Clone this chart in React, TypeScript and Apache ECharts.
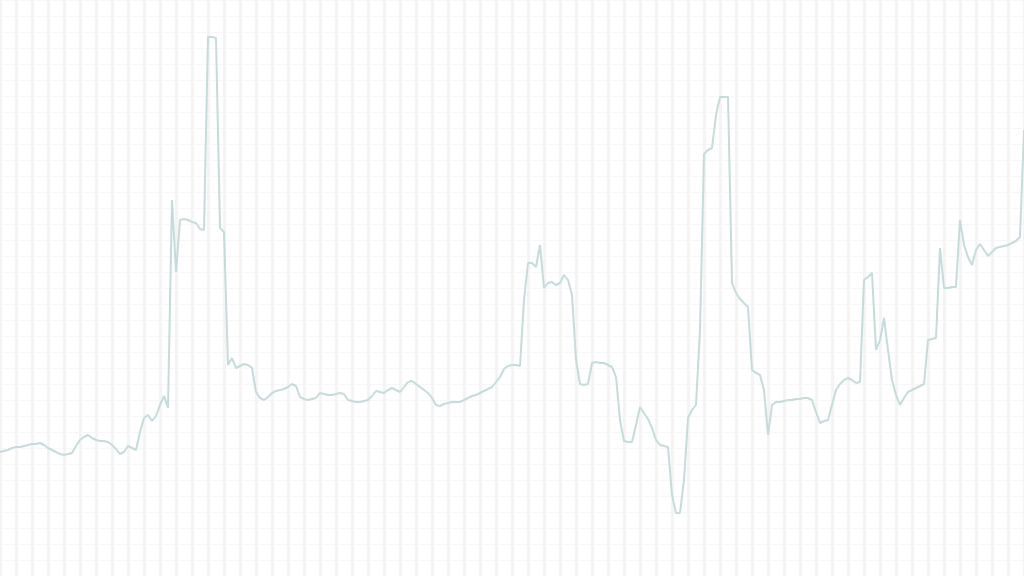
import React, { useEffect, useRef } from "react";
import * as echarts from "echarts";

// Series values (arbitrary units, higher = up), one every 1/256 of the width
const values: number[] = [
  124, 125, 126, 128, 129, 129, 130, 131, 132, 132, 133, 131, 128, 126, 124, 122,
  121, 122, 123, 130, 136, 139, 141, 138, 136, 135, 135, 134, 131, 127, 122, 124,
  130, 128, 126, 144, 158, 161, 155, 160, 171, 180, 168, 376, 304, 356, 357, 356,
  354, 353, 347, 346, 539, 539, 538, 348, 344, 211, 218, 208, 210, 212, 211, 208,
  184, 178, 176, 179, 183, 185, 186, 187, 189, 192, 190, 179, 177, 176, 177, 178,
  183, 182, 181, 181, 182, 183, 182, 176, 175, 174, 174, 175, 176, 180, 185, 184,
  183, 186, 188, 186, 184, 189, 194, 195, 192, 189, 186, 183, 178, 171, 170, 172,
  173, 174, 174, 174, 176, 178, 180, 181, 183, 185, 187, 189, 194, 199, 207, 210,
  211, 211, 210, 276, 313, 313, 309, 331, 288, 293, 294, 291, 293, 301, 296, 281,
  216, 192, 191, 192, 213, 214, 213, 213, 211, 209, 199, 156, 135, 134, 134, 151,
  169, 163, 157, 148, 136, 131, 130, 129, 81, 63, 63, 96, 158, 166, 171, 246,
  422, 426, 428, 461, 479, 479, 479, 293, 283, 277, 273, 269, 206, 203, 201, 186,
  141, 171, 174, 174, 175, 176, 176, 177, 177, 178, 178, 176, 164, 153, 155, 156,
  171, 186, 192, 196, 198, 196, 193, 194, 296, 299, 303, 226, 236, 258, 226, 196,
  181, 171, 178, 184, 186, 188, 190, 192, 236, 237, 238, 328, 288, 288, 289, 289,
  356, 331, 319, 311, 326, 332, 326, 320, 324, 328, 329, 330, 331, 333, 335, 339,
  446,
];

// Category labels: sample index
const categories: string[] = values.map((_, i) => String(i));

// Axis ranges
const yRange = { min: 0, max: 576, step: 16 };
const gridColumns = { min: 0, max: 64, step: 1 };

export default function App() {
  const ref = useRef<HTMLDivElement>(null);

  useEffect(() => {
    if (!ref.current) return;
    const chart = echarts.init(ref.current, undefined, { renderer: "svg" });
    chart.setOption({
      animation: false,
      backgroundColor: "#ffffff",
      grid: { left: 0, right: 0, top: 0, bottom: 0, containLabel: false },
      xAxis: [
        {
          type: "category",
          data: categories,
          boundaryGap: false,
          show: false,
        },
        {
          type: "value",
          min: gridColumns.min,
          max: gridColumns.max,
          interval: gridColumns.step,
          axisLine: { show: false },
          axisTick: { show: false },
          axisLabel: { show: false },
          splitLine: { show: true, lineStyle: { color: "#f4f4f4", width: 3 } },
        },
      ],
      yAxis: {
        type: "value",
        min: yRange.min,
        max: yRange.max,
        interval: yRange.step,
        axisLine: { show: false },
        axisTick: { show: false },
        axisLabel: { show: false },
        splitLine: { show: true, lineStyle: { color: "#f7f7f7", width: 1 } },
      },
      series: [
        {
          type: "line",
          xAxisIndex: 0,
          data: values,
          showSymbol: false,
          symbol: "none",
          lineStyle: { color: "#c6dbdb", width: 2 },
        },
      ],
    });
    return () => chart.dispose();
  }, []);

  return (
    <div
      ref={ref}
      style={{ position: "absolute", left: 0, top: 0, width: 1024, height: 576 }}
    />
  );
}
